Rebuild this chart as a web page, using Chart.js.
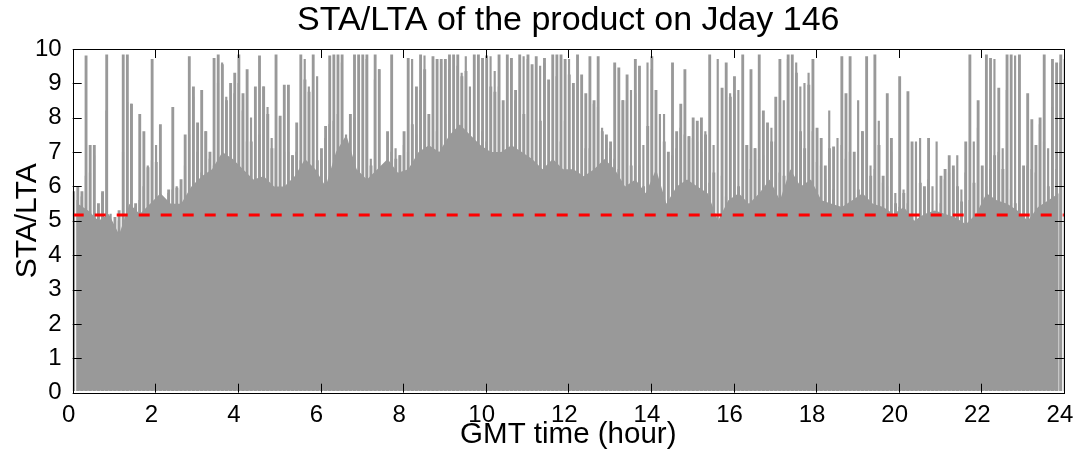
<!DOCTYPE html>
<html>
<head>
<meta charset="utf-8">
<script src="https://cdn.jsdelivr.net/npm/chart.js@4.4.1/dist/chart.umd.min.js"></script>
<style>
  html, body { margin: 0; padding: 0; background: #fff; }
  #wrap { width: 1077px; height: 458px; }
</style>
</head>
<body>
<div id="wrap"><canvas id="staLta"></canvas></div>
<script>
// peak STA/LTA in each 0.1 h bin
const peaks0to4 = [5.85, 6.0, 5.85, 9.8, 7.2, 7.2, 5.5, 5.85, 9.83, 4.2,
  5.1, 5.3, 9.83, 9.83, 8.4, 5.5, 8.1, 7.6, 6.55, 9.7,
  6.7, 7.8, 5.5, 5.9, 8.3, 5.95, 6.2, 7.5, 9.78, 8.9,
  7.85, 8.8, 7.6, 7.0, 9.73, 9.83, 9.55, 8.5, 9.0, 9.3];
const peaks4to8 = [9.83, 8.7, 9.4, 7.3, 8.9, 9.8, 8.9, 8.1, 7.1, 9.83,
  8.05, 8.95, 8.95, 6.9, 7.85, 9.83, 9.1, 8.75, 9.83, 6.75,
  7.1, 7.75, 9.8, 9.83, 9.83, 9.83, 5.9, 8.1, 9.83, 9.83,
  9.83, 9.83, 6.6, 9.83, 9.4, 6.24, 7.6, 9.83, 6.8, 6.9];
const peaks8to12 = [7.6, 9.73, 7.8, 8.9, 9.83, 9.4, 8.1, 9.78, 9.7, 9.7,
  9.7, 9.83, 9.83, 9.83, 9.2, 9.35, 7.1, 9.83, 9.83, 9.73,
  9.8, 8.9, 8.75, 9.83, 8.5, 9.83, 9.73, 8.8, 9.83, 8.1,
  9.83, 9.55, 9.78, 7.9, 9.73, 9.1, 9.83, 9.83, 9.83, 9.7];
const peaks12to16 = [9.25, 9.0, 9.83, 9.25, 8.7, 9.78, 8.5, 9.78, 7.6, 7.5,
  7.3, 9.6, 9.45, 8.5, 9.25, 6.6, 9.7, 9.5, 6.0, 7.75,
  9.78, 8.8, 4.6, 7.3, 7.0, 9.6, 7.6, 8.4, 9.4, 7.45,
  8.0, 7.9, 8.0, 7.5, 9.83, 6.4, 4.3, 8.86, 9.6, 8.6];
const peaks16to20 = [9.2, 6.0, 9.83, 7.2, 9.4, 7.1, 9.83, 8.2, 7.85, 7.3,
  8.6, 9.7, 6.3, 9.83, 9.83, 9.3, 7.6, 7.1, 8.95, 9.7,
  7.7, 7.4, 6.6, 7.1, 7.15, 5.2, 9.78, 8.7, 9.78, 7.0,
  5.9, 7.6, 9.78, 6.3, 9.83, 7.2, 6.3, 8.7, 7.4, 5.5];
const peaks20to24 = [9.2, 5.8, 8.76, 7.3, 5.0, 6.1, 6.0, 7.4, 5.0, 5.2,
  6.3, 6.5, 6.9, 6.6, 6.0, 5.55, 7.3, 9.83, 6.1, 8.5,
  6.6, 9.83, 9.73, 6.9, 8.86, 6.5, 9.83, 9.83, 5.5, 9.83,
  6.6, 8.7, 7.95, 7.2, 8.0, 9.83, 6.0, 9.7, 9.6, 9.83];

// secondary spikes sitting between the peak bins (at 0.1, 0.2, ... 24.0 h)
const shoulders0to4 = [5.6, 5.7, 6.3, 6.4, 6.9, 5.3, 5.8, 8.2, 5.2, 4.8,
  5.0, 7.0, 8.45, 8.4, 5.4, 5.6, 6.0, 6.6, 6.75, 7.2,
  5.4, 5.6, 5.8, 5.9, 6.0, 5.9, 6.6, 7.5, 8.6, 7.0,
  6.4, 7.6, 6.8, 6.6, 9.0, 9.6, 8.6, 5.2, 8.7, 9.0];
const shoulders4to8 = [8.2, 7.3, 8.0, 5.9, 7.5, 8.9, 8.3, 7.4, 7.1, 8.0,
  7.0, 7.0, 6.9, 7.0, 6.75, 9.7, 8.9, 8.8, 9.2, 6.8,
  7.4, 7.8, 7.9, 8.1, 9.6, 7.5, 8.1, 8.0, 5.9, 5.9,
  9.7, 6.8, 9.1, 9.4, 6.2, 6.2, 7.0, 7.1, 6.9, 7.2];
const shoulders8to12 = [7.0, 9.7, 7.5, 8.8, 9.8, 6.3, 6.6, 7.6, 9.6, 8.1,
  9.4, 6.3, 9.5, 9.3, 9.78, 8.9, 7.0, 7.2, 7.6, 7.3,
  9.78, 9.35, 8.9, 6.3, 7.2, 6.7, 8.5, 6.2, 9.78, 9.7,
  6.2, 8.8, 9.5, 9.6, 6.2, 5.9, 9.2, 7.3, 7.9, 9.7];
const shoulders12to16 = [8.8, 6.0, 5.9, 7.1, 7.1, 8.4, 8.3, 7.7, 7.4, 7.1,
  6.8, 6.5, 8.5, 8.5, 8.8, 8.7, 6.6, 7.2, 9.6, 9.4,
  6.0, 8.1, 8.1, 5.2, 6.9, 7.1, 7.7, 7.5, 7.45, 7.4,
  7.3, 7.0, 7.6, 6.1, 7.2, 9.7, 6.3, 5.7, 8.7, 8.7];
const shoulders16to20 = [8.8, 5.5, 7.2, 6.5, 7.1, 6.8, 6.9, 5.9, 7.7, 7.3,
  6.4, 8.5, 9.7, 5.4, 9.6, 8.9, 9.0, 9.3, 7.6, 6.7,
  6.6, 6.2, 8.2, 5.9, 7.4, 7.2, 6.8, 7.0, 5.1, 8.5,
  7.6, 5.6, 6.6, 6.5, 7.9, 6.1, 6.0, 7.0, 5.8, 5.4];
const shoulders20to24 = [5.9, 5.5, 5.2, 7.3, 7.4, 5.9, 6.2, 6.0, 7.3, 5.5,
  6.2, 6.4, 6.5, 6.9, 5.9, 6.4, 5.6, 7.3, 7.7, 5.7,
  6.0, 6.5, 9.7, 7.0, 7.1, 8.8, 5.9, 9.8, 9.8, 5.2,
  6.6, 6.5, 6.4, 7.8, 7.3, 7.1, 8.3, 6.5, 9.6, 9.7];

// height of the dense part of the trace, every 0.25 h
const body0to6 = [5.5, 5.3, 5.0, 5.2, 4.6, 5.5, 5.2, 5.5, 5.8, 5.5, 5.5, 6.0,
  6.3, 6.5, 7.0, 6.8, 6.5, 6.2, 6.3, 6.0, 6.0, 6.3, 6.8, 6.5];
const body6to12 = [6.0, 7.0, 7.5, 6.5, 6.2, 6.5, 6.8, 6.4, 6.5, 7.0, 7.2, 7.0,
  7.5, 7.8, 7.5, 7.2, 7.0, 7.0, 7.2, 7.0, 6.8, 6.5, 6.8, 6.5];
const body12to18 = [6.5, 6.3, 6.5, 6.8, 6.5, 6.0, 6.2, 5.8, 6.5, 5.5, 6.0, 6.2,
  6.0, 5.8, 5.0, 5.6, 5.8, 5.5, 5.8, 6.2, 5.6, 6.5, 6.0, 6.2];
const body18to24 = [5.6, 5.5, 5.4, 5.6, 5.8, 5.5, 5.4, 5.2, 5.4, 5.0, 5.2, 5.3,
  5.2, 5.1, 4.9, 5.2, 5.8, 5.6, 5.5, 5.3, 5.0, 5.4, 5.6, 5.8];

const threshold = 5.17;
const xTicks = [0, 2, 4, 6, 8, 10, 12, 14, 16, 18, 20, 22, 24];
const yTicks = [0, 1, 2, 3, 4, 5, 6, 7, 8, 9, 10];

const peakBin = 0.1;   // hours
const bodyBin = 0.25;  // hours
const traceBottom = 0.06;

const peaks = [].concat(peaks0to4, peaks4to8, peaks8to12, peaks12to16, peaks16to20, peaks20to24);
const peakTimes = peaks.map((_, i) => +(peakBin * (i + 0.5)).toFixed(3));
const shoulders = [].concat(shoulders0to4, shoulders4to8, shoulders8to12,
  shoulders12to16, shoulders16to20, shoulders20to24);
const shoulderTimes = shoulders.map((_, i) => +(peakBin * (i + 1)).toFixed(3));
const body = [].concat(body0to6, body6to12, body12to18, body18to24);
const bodyTimes = body.map((_, i) => +(bodyBin * (i + 0.5)).toFixed(3));

const grey = '#999999';
const family = '"Liberation Sans", Arial, Helvetica, sans-serif';

// gnuplot style: box round the plot, ticks pointing inward on all sides
const frameTicks = {
  id: 'frameTicks',
  afterDatasetsDraw(chart) {
    const { ctx, chartArea: a, scales } = chart;
    const len = 9;
    ctx.save();
    ctx.strokeStyle = '#000';
    ctx.lineWidth = 1;
    ctx.beginPath();
    xTicks.forEach(v => {
      const px = Math.round(scales.x.getPixelForValue(v)) + 0.5;
      ctx.moveTo(px, a.bottom); ctx.lineTo(px, a.bottom - len);
      ctx.moveTo(px, a.top); ctx.lineTo(px, a.top + len);
    });
    yTicks.forEach(v => {
      const py = Math.round(scales.y.getPixelForValue(v)) + 0.5;
      ctx.moveTo(a.left, py); ctx.lineTo(a.left + len, py);
      ctx.moveTo(a.right, py); ctx.lineTo(a.right - len, py);
    });
    ctx.stroke();
    ctx.strokeRect(Math.round(a.left) + 0.5, Math.round(a.top) + 0.5,
      Math.round(a.width), Math.round(a.height));
    ctx.restore();
  }
};

new Chart(document.getElementById('staLta'), {
  type: 'bar',
  data: {
    datasets: [
      {
        type: 'line',
        label: 'threshold',
        data: [{ x: xTicks[0], y: threshold }, { x: xTicks[xTicks.length - 1], y: threshold }],
        borderColor: '#ff0000',
        borderWidth: 3,
        borderDash: [11, 11],
        pointRadius: 0,
        fill: false,
        order: 0,
      },
      {
        type: 'line',
        label: 'body',
        data: bodyTimes.map((x, i) => ({ x, y: body[i] })),
        borderWidth: 0,
        backgroundColor: grey,
        fill: { value: traceBottom },
        pointRadius: 0,
        order: 1,
      },
      {
        type: 'bar',
        label: 'STA/LTA',
        data: peakTimes.map((x, i) => ({ x, y: [traceBottom, peaks[i]] })),
        backgroundColor: grey,
        barThickness: 2.2,
        order: 2,
      },
      {
        type: 'bar',
        label: 'STA/LTA shoulders',
        data: shoulderTimes.map((x, i) => ({ x, y: [traceBottom, shoulders[i]] })),
        backgroundColor: grey,
        barThickness: 1.5,
        order: 3,
      },
    ],
  },
  options: {
    responsive: true,
    maintainAspectRatio: false,
    animation: false,
    layout: { padding: { left: 0, right: 13.1, top: 0, bottom: 0 } },
    plugins: {
      legend: { display: false },
      tooltip: { enabled: false },
      title: {
        display: true,
        text: 'STA/LTA of the product on Jday 146',
        fullSize: false,
        color: '#000',
        font: { family, size: 34, weight: 'normal' },
        padding: { top: 0, bottom: 8.2 },
      },
    },
    scales: {
      x: {
        type: 'linear',
        min: 0,
        max: 24,
        offset: false,
        grid: { display: false, drawTicks: false },
        border: { display: false },
        afterBuildTicks(s) { s.ticks = xTicks.map(v => ({ value: v })); },
        ticks: { padding: 8, labelOffset: -4, maxRotation: 0, autoSkip: false, color: '#000', font: { family, size: 24 } },
        title: { display: true, text: 'GMT time (hour)', color: '#000', font: { family, size: 29.5 }, padding: { top: 0, bottom: 5 } },
        afterFit(s) { s.height = 65.3; s.paddingLeft = 0; s.paddingRight = 0; },
      },
      y: {
        min: 0,
        max: 10,
        grid: { display: false, drawTicks: false },
        border: { display: false },
        afterBuildTicks(s) { s.ticks = yTicks.map(v => ({ value: v })); },
        ticks: { padding: 11, color: '#000', font: { family, size: 24 } },
        title: { display: true, text: 'STA/LTA', color: '#000', font: { family, size: 30 }, padding: { top: 10, bottom: 0 } },
        afterFit(s) { s.width = 72.7; s.paddingTop = 0; s.paddingBottom = 0; },
      },
    },
  },
  plugins: [frameTicks],
});
</script>
</body>
</html>
